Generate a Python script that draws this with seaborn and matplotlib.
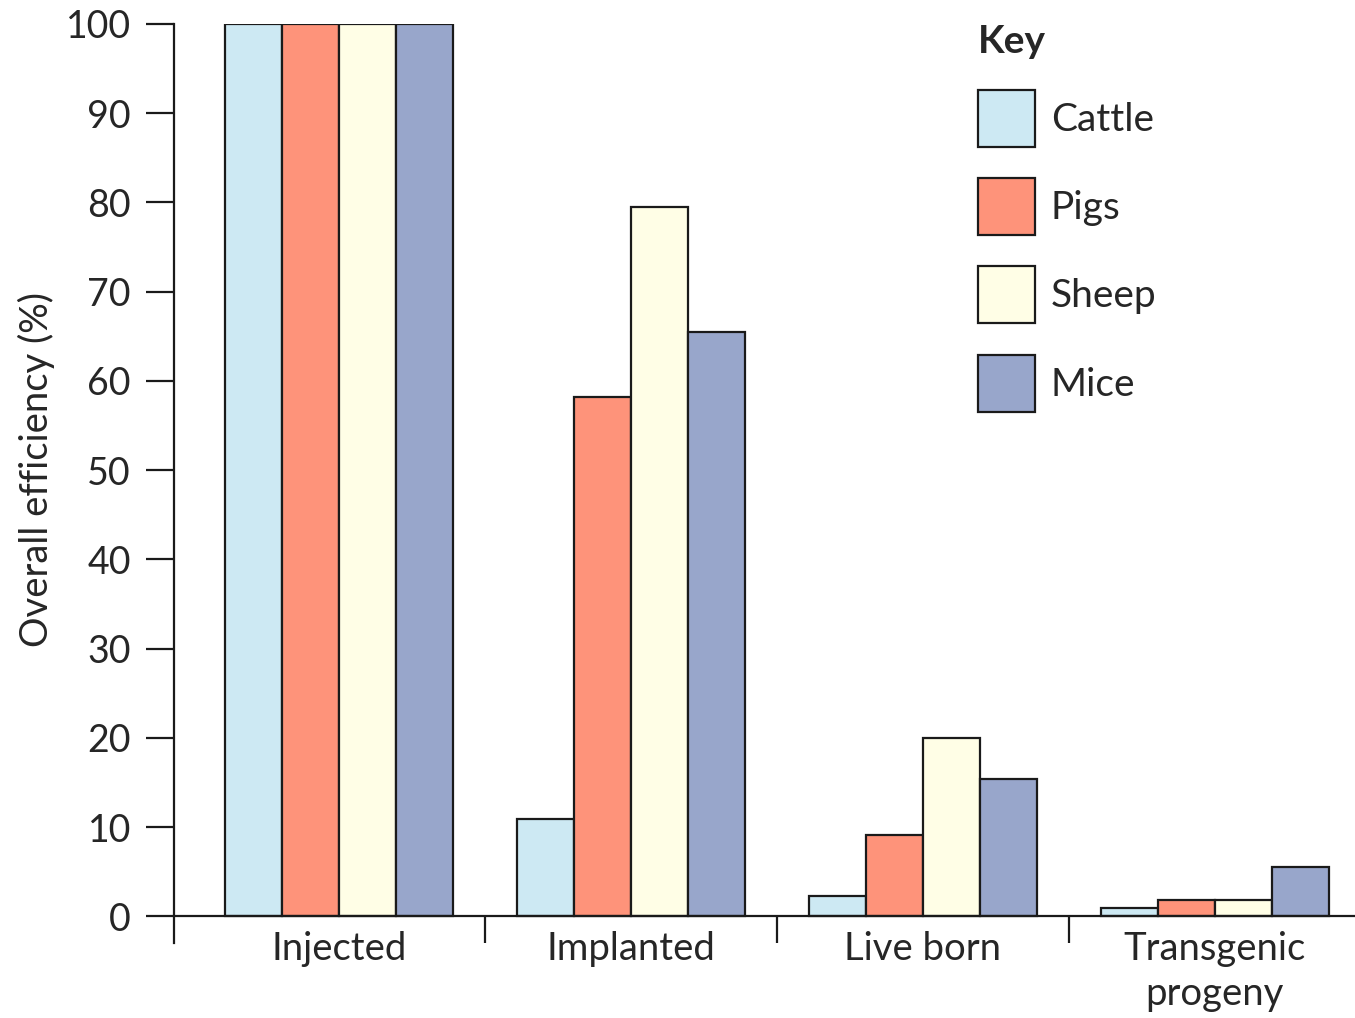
import pandas as pd
import seaborn as sns
import matplotlib.pyplot as plt
import matplotlib.patches as mpatches
from matplotlib.ticker import FixedLocator

# data
stages = ['Injected', 'Implanted', 'Live born', 'Transgenic\nprogeny']
animals = ['Cattle', 'Pigs', 'Sheep', 'Mice']
cattle = [100, 10.9, 2.3, 0.9]
pigs = [100, 58.2, 9.1, 1.8]
sheep = [100, 79.5, 20.0, 1.8]
mice = [100, 65.5, 15.4, 5.5]
colors = ['#cde9f3', '#fe937a', '#fffee6', '#98a6cb']

rows = []
for name, vals in zip(animals, [cattle, pigs, sheep, mice]):
    for st, v in zip(stages, vals):
        rows.append({'stage': st, 'animal': name, 'value': v})
df = pd.DataFrame(rows)

sns.set_style('white')
plt.rcParams['font.family'] = ['Lato', 'DejaVu Sans']

fig = plt.figure(figsize=(13.55, 10.18), dpi=100)
ax = fig.add_axes([174/1355, 1-943/1018, 1-174/1355, (943-24)/1018])

sns.barplot(data=df, x='stage', y='value', hue='animal', order=stages,
            hue_order=animals, palette=colors, saturation=1, width=0.78, gap=0,
            edgecolor='#1a1a1a', linewidth=1.6, legend=False, ax=ax)

ax.set_xlim(-0.565, 3.48)
ax.set_ylim(-3, 100)
ax.set_yticks(range(0, 101, 10))
ax.set_xlabel('')
ax.set_ylabel('Overall efficiency (%)', fontsize=27.5)
ax.yaxis.set_label_coords(-0.101, 0.515)

for s in ['top', 'right']:
    ax.spines[s].set_visible(False)
ax.spines['bottom'].set_position(('data', 0))
for s in ['left', 'bottom']:
    ax.spines[s].set_linewidth(1.6)
    ax.spines[s].set_color('#1a1a1a')

ax.xaxis.set_minor_locator(FixedLocator([0.5, 1.5, 2.5]))
ax.tick_params(axis='x', which='major', length=0, pad=10.5, labelsize=27.5)
ax.tick_params(axis='x', which='minor', bottom=True, direction='out',
               length=19.5, width=1.6, color='#1a1a1a')
ax.tick_params(axis='y', left=True, direction='out', length=20, width=1.6,
               color='#1a1a1a', pad=11, labelsize=27)
for lab in ax.get_xticklabels():
    lab.set_linespacing(1.3)

handles = [mpatches.Patch(facecolor=c, edgecolor='#1a1a1a', linewidth=1.6, label=a)
           for c, a in zip(colors, animals)]
leg = fig.legend(handles=handles, title='Key', loc='upper left',
                 bbox_to_anchor=(978/1355, 1-24/1018), frameon=False,
                 fontsize=28, title_fontproperties={'weight': 'bold', 'size': 28},
                 handlelength=1.47, handleheight=1.88, labelspacing=0.8,
                 handletextpad=0.4, borderpad=0, borderaxespad=0,
                 alignment='left')

fig.savefig('out.png', dpi=100)
